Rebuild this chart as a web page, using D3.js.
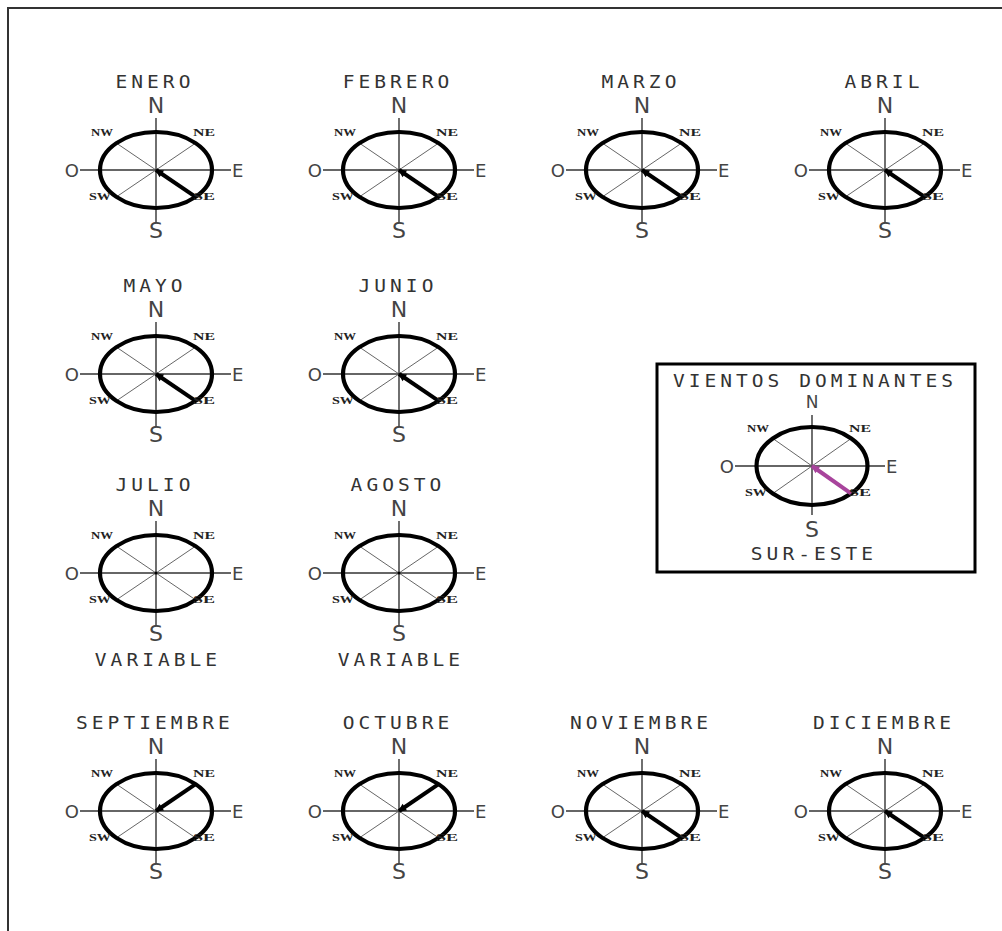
<!DOCTYPE html>
<html>
<head>
<meta charset="utf-8">
<script src="https://cdn.jsdelivr.net/npm/d3@7/dist/d3.min.js"></script>
<style>
  body { margin: 0; background: #fff; }
  svg { display: block; }
</style>
</head>
<body>
<div id="graph"></div>
<script>
// Datos: meses y dirección del viento dominante de cada uno.
const meses = ["ENERO", "FEBRERO", "MARZO", "ABRIL", "MAYO", "JUNIO",
               "JULIO", "AGOSTO", "SEPTIEMBRE", "OCTUBRE", "NOVIEMBRE", "DICIEMBRE"];
const direcciones = ["SE", "SE", "SE", "SE", "SE", "SE",
                     "VARIABLE", "VARIABLE", "NE", "NE", "SE", "SE"];
const rumbos = ["E", "SE", "S", "SW", "O", "NW", "N", "NE"];
const rumbosDiagonales = ["NE", "SE", "SW", "NW"];
const tituloLeyenda = "VIENTOS DOMINANTES";
const dominante = "SE";
const dominanteTexto = "SUR-ESTE";

// Posición de cada mes en la cuadrícula (fila, columna).
const fila    = [0, 0, 0, 0, 1, 1, 2, 2, 3, 3, 3, 3];
const columna = [0, 1, 2, 3, 0, 1, 0, 1, 0, 1, 2, 3];

const width = 1002;
const height = 931;

const x = d3.scaleLinear().domain([0, 3]).range([156, 885]);
const y = d3.scaleOrdinal().domain([0, 1, 2, 3]).range([170, 374, 573, 811]);
const angulo = d3.scaleOrdinal().domain(rumbos).range(d3.range(0, 360, 45));

const svg = d3.create("svg")
    .attr("width", width)
    .attr("height", height);

// Marco
svg.append("rect")
    .attr("x", 8).attr("y", 8)
    .attr("width", 1200).attr("height", 1200)
    .attr("fill", "none")
    .attr("stroke", "#333")
    .attr("stroke-width", 2);

const monoFont = "'DejaVu Sans Mono', monospace";
const sansFont = "'DejaVu Sans', sans-serif";

function punto(cx, cy, rx, ry, dir) {
  const a = angulo(dir) * Math.PI / 180;
  return [cx + rx * Math.cos(a), cy + ry * Math.sin(a)];
}

// Texto ancho tipo plano (fuente mono estirada)
function titulo(g, texto, cx, yb) {
  g.append("text")
      .attr("transform", `translate(${cx},${yb}) scale(1.15,1)`)
      .attr("dx", 1.7)
      .attr("text-anchor", "middle")
      .attr("font-family", monoFont)
      .attr("font-size", 17)
      .attr("letter-spacing", 3.5)
      .attr("fill", "#333")
      .text(texto);
}

function rosa(g, cx, cy, opts) {
  const rx = opts.rx, ry = opts.ry;
  // cruz principal
  g.append("line")
      .attr("x1", cx - opts.h0).attr("x2", cx + opts.h1)
      .attr("y1", cy).attr("y2", cy)
      .attr("stroke", "#333").attr("stroke-width", 1.4);
  g.append("line")
      .attr("x1", cx).attr("x2", cx)
      .attr("y1", cy - opts.v0).attr("y2", cy + opts.v1)
      .attr("stroke", "#333").attr("stroke-width", 1.4);
  // diagonales
  g.selectAll("line.diag")
    .data(rumbosDiagonales)
    .join("line")
      .attr("class", "diag")
      .attr("x1", cx).attr("y1", cy)
      .attr("x2", d => punto(cx, cy, rx, ry, d)[0])
      .attr("y2", d => punto(cx, cy, rx, ry, d)[1])
      .attr("stroke", "#555").attr("stroke-width", 0.9);
  // elipse
  g.append("ellipse")
      .attr("cx", cx).attr("cy", cy)
      .attr("rx", rx).attr("ry", ry)
      .attr("fill", "none")
      .attr("stroke", "#000")
      .attr("stroke-width", 4.2);
  // flecha del viento
  if (opts.dir !== "VARIABLE") {
    const [px, py] = punto(cx, cy, rx, ry, opts.dir);
    g.append("line")
        .attr("x1", cx).attr("y1", cy)
        .attr("x2", px).attr("y2", py)
        .attr("stroke", opts.color)
        .attr("stroke-width", 4);
    const a = Math.atan2(py - cy, px - cx);
    const L = 7, W = 4;
    const bx = cx + L * Math.cos(a), by = cy + L * Math.sin(a);
    g.append("path")
        .attr("d", d3.line()([
          [cx - 1 * Math.cos(a), cy - 1 * Math.sin(a)],
          [bx - W * Math.sin(a), by + W * Math.cos(a)],
          [bx + W * Math.sin(a), by - W * Math.cos(a)]
        ]) + "Z")
        .attr("fill", opts.color);
  } else {
    g.append("circle").attr("cx", cx).attr("cy", cy).attr("r", 1.5).attr("fill", "#000");
  }
  // etiquetas diagonales
  const diagPos = {
    NW: [cx - 54, cy - 34], NE: [cx + 48, cy - 34],
    SW: [cx - 56, cy + 30], SE: [cx + 48, cy + 30]
  };
  g.selectAll("text.diag")
    .data(rumbosDiagonales)
    .join("text")
      .attr("class", "diag")
      .attr("x", d => diagPos[d][0] - 11)
      .attr("y", d => diagPos[d][1])
      .attr("textLength", 22)
      .attr("lengthAdjust", "spacingAndGlyphs")
      .attr("font-family", "'Liberation Serif', serif")
      .attr("font-weight", "bold")
      .attr("font-size", 10)
      .attr("fill", "#222")
      .text(d => d);
  // N, S, E, O
  const letra = (t, lx, ly, size, anchor) => g.append("text")
      .attr("x", lx).attr("y", ly)
      .attr("text-anchor", anchor)
      .attr("font-family", sansFont)
      .attr("font-size", size).attr("fill", "#444")
      .text(t);
  letra("N", cx, cy - opts.nY, opts.nSize, "middle");
  letra("S", cx, cy + opts.sY, 22, "middle");
  letra("E", cx + opts.h1 + 1, cy + 6.5, 18, "start");
  letra("O", cx - opts.h0 - 1, cy + 6.5, 18, "end");
}

// Rosas de los meses
meses.forEach((m, i) => {
  const cx = x(columna[i]);
  const cy = y(fila[i]);
  const g = svg.append("g");
  titulo(g, m, cx - 3, cy - 82);
  rosa(g, cx, cy, {
    rx: 56, ry: 38, h0: 76, h1: 75, v0: 52, v1: 53,
    nY: 57, sY: 68, nSize: 22,
    dir: direcciones[i], color: "#000"
  });
  if (direcciones[i] === "VARIABLE") {
    titulo(g, "VARIABLE", cx, cy + 93);
  }
});

// Leyenda
const lg = svg.append("g");
lg.append("rect")
    .attr("x", 657).attr("y", 364)
    .attr("width", 318).attr("height", 208)
    .attr("fill", "#fff")
    .attr("stroke", "#000")
    .attr("stroke-width", 3);
titulo(lg, tituloLeyenda, 813, 387);
rosa(lg, 812, 466, {
  rx: 55.5, ry: 39, h0: 77, h1: 73, v0: 51, v1: 49,
  nY: 58, sY: 71, nSize: 17,
  dir: dominante, color: "#a8449c"
});
titulo(lg, dominanteTexto, 812, 560);

document.getElementById("graph").appendChild(svg.node());
</script>
</body>
</html>
